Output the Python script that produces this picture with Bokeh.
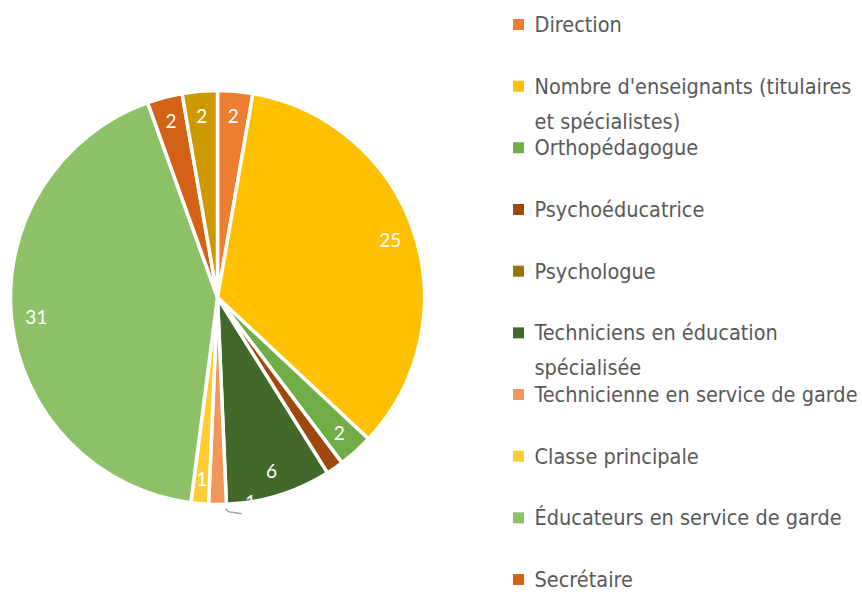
import math
import textwrap
from bokeh.plotting import figure
from bokeh.models import Range1d, ColumnDataSource
from bokeh.core.properties import value
from bokeh.embed import file_html
from bokeh.resources import INLINE

categories = [
    "Direction",
    "Nombre d'enseignants (titulaires et spécialistes)",
    "Orthopédagogue",
    "Psychoéducatrice",
    "Psychologue",
    "Techniciens en éducation spécialisée",
    "Technicienne en service de garde",
    "Classe principale",
    "Éducateurs en service de garde",
    "Secrétaire",
    "Autre",
]
counts = [2, 25, 2, 1, 0, 6, 1, 1, 31, 2, 2]
colors = ["#ED7D31", "#FFC000", "#70AD47", "#9E480E", "#997300", "#43682B",
          "#F1975A", "#FFCD33", "#8CC168", "#D46214", "#CC9A00"]

hidden_labels = {"Psychoéducatrice"}
moved_label = "Technicienne en service de garde"

W, H = 862, 592
p = figure(width=W, height=H, x_range=Range1d(0, W), y_range=Range1d(0, H),
           output_backend="svg", toolbar_location=None, min_border=0)
p.axis.visible = False
p.grid.visible = False
p.outline_line_color = None
p.background_fill_color = "white"

cx, cy, R = 217, 295, 207
total = sum(counts)
starts, ends, mids = [], [], []
cum = 0
for c in counts:
    a0 = math.pi / 2 - 2 * math.pi * cum / total
    cum += c
    a1 = math.pi / 2 - 2 * math.pi * cum / total
    starts.append(a0)
    ends.append(a1)
    mids.append((a0 + a1) / 2)

keep = [i for i, c in enumerate(counts) if c > 0]
src = ColumnDataSource(dict(start=[starts[i] for i in keep], end=[ends[i] for i in keep],
                            color=[colors[i] for i in keep], cat=[categories[i] for i in keep]))
p.wedge(x=cx, y=cy, radius=R, start_angle="start", end_angle="end", direction="clock",
        fill_color="color", line_color="white", line_width=3.5, source=src)

lx, ly, lt = [], [], []
for cat, c, m in zip(categories, counts, mids):
    if c == 0 or cat in hidden_labels:
        continue
    if cat == moved_label:
        a = m + math.radians(9.2)
        x = cx + 1.0 * R * math.cos(a)
        y = cy + 1.0 * R * math.sin(a)
        p.line(x=[x - 25, x - 22, x - 9], y=[y - 7, y - 10, y - 12],
               line_color="#A6A6A6", line_width=1.5)
    else:
        x = cx + 0.88 * R * math.cos(m)
        y = cy + 0.88 * R * math.sin(m)
    lx.append(x)
    ly.append(y)
    lt.append(str(c))
p.text(x=lx, y=ly, text=lt, text_color="white", text_font=value("Lato"),
       text_font_size="19px", text_align="center", text_baseline="middle")

# legend (entries below the bottom edge are cut off in the reference)
leg_x, leg_y0, leg_step, line_h = 518, H - 24, 61.67, 35
sq_x, sq_y, sq_c, tx, ty, tt = [], [], [], [], [], []
for i, (cat, col) in enumerate(zip(categories, colors)):
    y = leg_y0 - leg_step * i
    if y < 0:
        continue
    sq_x.append(leg_x)
    sq_y.append(y)
    sq_c.append(col)
    for j, line in enumerate(textwrap.wrap(cat, 32)):
        tx.append(leg_x + 16)
        ty.append(y - line_h * j)
        tt.append(line)
p.rect(x=sq_x, y=sq_y, width=11, height=11, fill_color=sq_c, line_color=None)
p.text(x=tx, y=ty, text=tt, text_color="#595959",
       text_font=value("'DejaVu Sans Condensed', Roboto"), text_font_size="21.5px",
       text_align="left", text_baseline="middle")

open("out.html", "w").write(file_html(p, INLINE))
